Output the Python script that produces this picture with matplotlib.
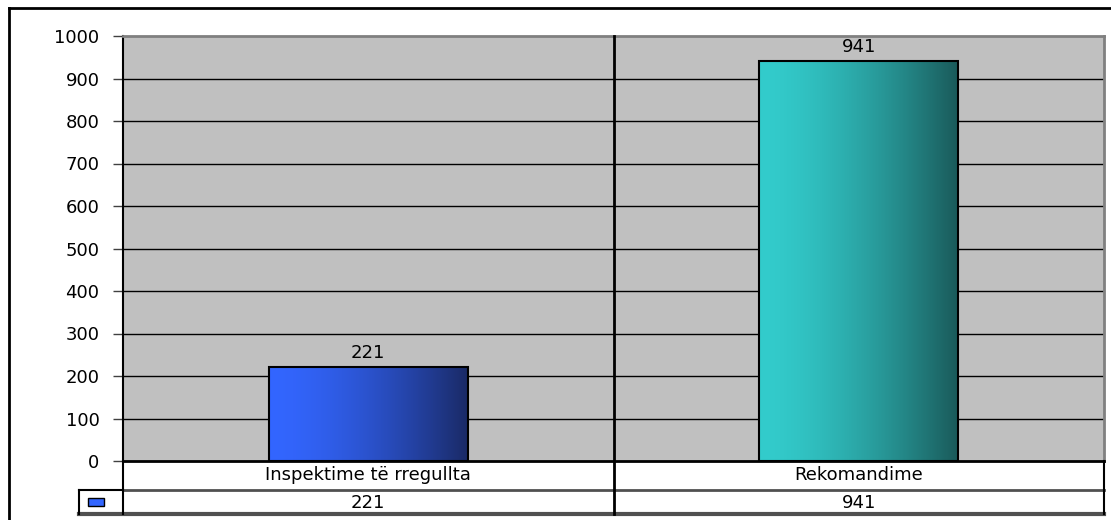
import matplotlib
matplotlib.use("Agg")
import matplotlib.pyplot as plt
import numpy as np
from matplotlib.colors import LinearSegmentedColormap, to_rgb
from matplotlib.lines import Line2D
from matplotlib.patches import Rectangle

categories = ["Inspektime të rregullta", "Rekomandime"]
values = [221, 941]
bar_colors = [("#3366FF", "#1A2A66"), ("#33CCCC", "#1A5A5A")]
yticks = list(range(0, 1001, 100))

W, H = 1111, 520
fig = plt.figure(figsize=(W / 100, H / 100), dpi=100)
plt.rcParams['font.family'] = ['DejaVu Sans']
FS = 13


def fx(px):
    return px / W


def fy(py):
    return 1 - py / H


def shade_cmap(c1, c2, name):
    # smooth left-to-right shading, light side held a bit longer
    a, b = np.array(to_rgb(c1)), np.array(to_rgb(c2))
    t = np.linspace(0, 1, 64)
    cols = [a + (b - a) * (s ** 1.6) for s in t]
    return LinearSegmentedColormap.from_list(name, cols)


left, right, top, bottom = 123, 1104, 36, 461
ax = fig.add_axes([fx(left), fy(bottom), fx(right - left), fy(top) - fy(bottom)])
ax.set_facecolor("#C0C0C0")
ax.set_xlim(0, len(categories))
ax.set_ylim(0, 1000)
ax.set_yticks(yticks)
ax.set_yticklabels([str(t) for t in yticks], fontsize=FS)
ax.tick_params(axis="y", length=7, width=1, pad=10, color="#404040")
ax.set_xticks([])
for t in yticks[1:-1]:
    ax.axhline(t, color="black", lw=1, zorder=1)
for s in ["top", "right"]:
    ax.spines[s].set_color("#808080")
    ax.spines[s].set_linewidth(2)
ax.spines["left"].set_color("black")
ax.spines["left"].set_linewidth(1.5)
ax.spines["bottom"].set_color("black")
ax.spines["bottom"].set_linewidth(2)

bw = 0.405
grad = np.linspace(0, 1, 256).reshape(1, -1)
for i, (v, (c1, c2)) in enumerate(zip(values, bar_colors)):
    x0 = i + 0.5 - bw / 2
    rect = Rectangle((x0, 0), bw, v, facecolor="none", edgecolor="black", lw=1.5, zorder=4)
    ax.add_patch(rect)
    im = ax.imshow(grad, cmap=shade_cmap(c1, c2, "g%d" % i), aspect="auto",
                   extent=(x0, x0 + bw, 0, v), zorder=3)
    im.set_clip_path(rect)
    ax.text(i + 0.5, v + 12, str(v), ha="center", va="bottom", fontsize=FS)

# data table below the axis
row1, row2, tbot = 461, 490, 514
leg_l = 79
div_x = left + (right - left) / len(categories)
lines = [
    ((left, right), (row2, row2), "#505050", 2),
    ((leg_l, right), (tbot, tbot), "#505050", 3),
    ((leg_l, left), (row2, row2), "black", 1.5),
    ((leg_l, leg_l), (row2, tbot), "black", 1.5),
    ((left, left), (row1, tbot), "black", 1.5),
    ((right, right), (row1, tbot), "black", 1.5),
    ((div_x, div_x), (top, tbot), "black", 2),
    ((9, 9), (8, H), "black", 2),
    ((9, W), (8, 8), "black", 2),
]
for xs, ys, c, lw in lines:
    fig.add_artist(Line2D([fx(xs[0]), fx(xs[1])], [fy(ys[0]), fy(ys[1])],
                          color=c, lw=lw, transform=fig.transFigure))
cat_w = (right - left) / len(categories)
for i, (c, v) in enumerate(zip(categories, values)):
    cx = left + cat_w * (i + 0.5)
    fig.text(fx(cx), fy((row1 + row2) / 2), c, ha="center", va="center", fontsize=FS)
    fig.text(fx(cx), fy((row2 + tbot) / 2 + 1), str(v), ha="center", va="center", fontsize=FS)

# legend key
key = Rectangle((fx(88), fy(506)), fx(16), fy(498) - fy(506), transform=fig.transFigure,
                facecolor=bar_colors[0][0], edgecolor="black", lw=1)
fig.add_artist(key)

fig.savefig("out.png", dpi=100)
